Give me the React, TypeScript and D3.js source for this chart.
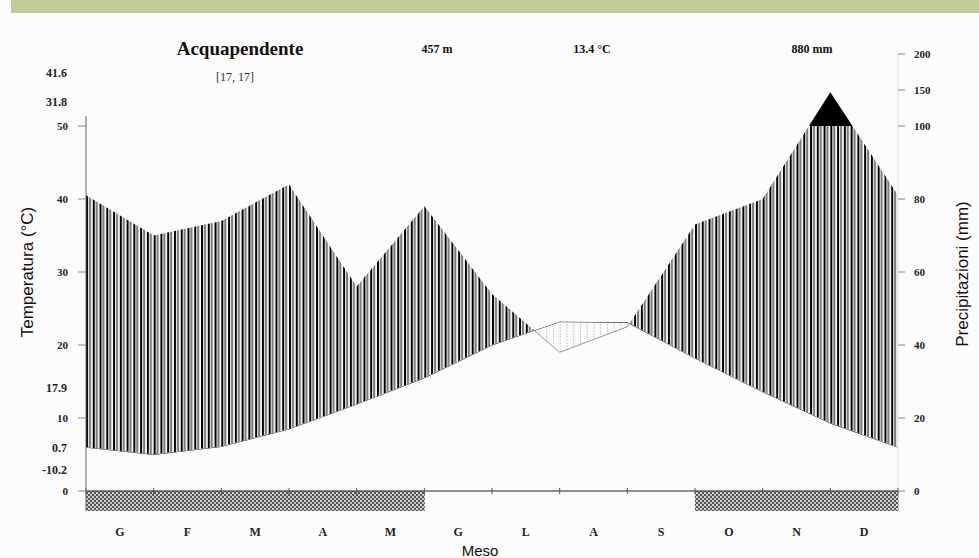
import { useMemo } from "react";
import * as d3 from "d3";

// Walter-Lieth climate diagram, Acquapendente
const months = ["G", "F", "M", "A", "M", "G", "L", "A", "S", "O", "N", "D"];
const tempMean = [5.0, 6.1, 8.5, 11.9, 15.5, 20.0, 23.2, 23.1, 18.2, 13.6, 9.3, 6.0];
const precip = [70, 74, 84, 56, 78, 54, 38, 45, 73, 80, 147, 81];
const frostMonths = [1, 1, 1, 1, 1, 0, 0, 0, 0, 1, 1, 1];

const station = "Acquapendente";
const period = "[17, 17]";
const altitude = "457 m";
const meanTemp = "13.4 °C";
const totalPrecip = "880 mm";

const tempTicks = [0, 10, 20, 30, 40, 50];
const precipTicks = [0, 20, 40, 60, 80, 100, 150, 200];
const extremeLabels = ["41.6", "31.8", "17.9", "0.7", "-10.2"];

const W = 979;
const H = 558;
const serif = "'Liberation Serif', 'Times New Roman', serif";
const sans = "'Liberation Sans', Arial, sans-serif";

export default function App() {
  const m = { left: 86, right: 898, top: 126, zero: 491 };

  const x = d3.scaleLinear().domain([0, 12]).range([m.left, m.right]);
  const yT = d3.scaleLinear().domain([0, 50]).range([m.zero, m.top]);
  const yP = d3.scaleLinear().domain([0, 100, 200]).range([m.zero, m.top, 54]);
  const mw = x(1) - x(0);

  // month values sit on the month's right edge; December repeats at the left edge
  const pts = useMemo(
    () =>
      d3.range(13).map((k) => {
        const i = k === 0 ? 11 : k - 1;
        return { x: x(k), t: yT(tempMean[i]), p: yP(precip[i]) };
      }),
    []
  );

  const between = d3.area<any>().x((d) => d.x).y0((d) => d.t).y1((d) => d.p)(pts);
  const aboveT = d3.area<any>().x((d) => d.x).y0(0).y1((d) => d.t)(pts);
  const belowT = d3.area<any>().x((d) => d.x).y0((d) => d.t).y1(m.zero)(pts);
  const over100 = d3.area<any>().x((d) => d.x).y0(yP(100)).y1((d) => d.p)(pts);
  const tLine = d3.line<any>().x((d) => d.x).y((d) => d.t)(pts);
  const pLine = d3.line<any>().x((d) => d.x).y((d) => d.p)(pts);

  const extremeY = [77, 106, 392, 452, 474];

  return (
    <svg
      width={W}
      height={H}
      style={{ position: "absolute", left: 0, top: 0, background: "#fcfcfc" }}
    >
      <defs>
        <pattern id="wet" patternUnits="userSpaceOnUse" x={m.left} width={mw / 10} height={10}>
          <rect x={0} y={0} width={2} height={10} fill="#000" />
          <rect x={3} y={0} width={2} height={10} fill="#777" />
        </pattern>
        <pattern id="dry" patternUnits="userSpaceOnUse" x={m.left} width={mw / 10} height={3}>
          <rect x={0} y={0} width={0.8} height={2} fill="#bdbdbd" />
        </pattern>
        <pattern id="frost" patternUnits="userSpaceOnUse" width={4} height={4}>
          <rect width={4} height={4} fill="#555" />
          <circle cx={1} cy={1} r={1} fill="#fff" />
          <circle cx={3} cy={3} r={1} fill="#eee" />
        </pattern>
        <clipPath id="clipAbove">
          <path d={aboveT ?? ""} />
        </clipPath>
        <clipPath id="clipBelow">
          <path d={belowT ?? ""} />
        </clipPath>
        <clipPath id="clipUnder100">
          <rect x={0} y={yP(100)} width={W} height={H} />
        </clipPath>
        <clipPath id="clipOver100">
          <rect x={0} y={0} width={W} height={yP(100)} />
        </clipPath>
      </defs>

      {/* banner */}
      <rect x={11} y={0} width={W - 11} height={13} fill="#c1cd97" />

      {/* wet period */}
      <g clipPath="url(#clipUnder100)">
        <path d={between ?? ""} fill="url(#wet)" clipPath="url(#clipAbove)" />
      </g>
      {/* dry period */}
      <path d={between ?? ""} fill="url(#dry)" clipPath="url(#clipBelow)" />
      {/* > 100 mm */}
      <path d={over100 ?? ""} fill="#000" clipPath="url(#clipOver100)" />

      <g clipPath="url(#clipBelow)">
        <path d={tLine ?? ""} fill="none" stroke="#222" strokeWidth={1} />
        <path d={pLine ?? ""} fill="none" stroke="#999" strokeWidth={1} />
      </g>

      {/* frost months */}
      {frostMonths.map((f, i) =>
        f ? (
          <rect key={i} x={x(i)} y={m.zero} width={mw + 0.5} height={20} fill="url(#frost)" />
        ) : null
      )}

      {/* axes */}
      <line x1={m.left} x2={m.right} y1={m.zero} y2={m.zero} stroke="#222" strokeWidth={1} />
      <line x1={m.left} x2={m.left} y1={116} y2={511} stroke="#666" strokeWidth={1} />
      <line x1={m.right} x2={m.right} y1={yP(200)} y2={m.zero} stroke="#ddd" strokeWidth={1} />
      {d3.range(13).map((k) => (
        <line key={k} x1={x(k)} x2={x(k)} y1={m.zero - 3} y2={m.zero + 3} stroke="#555" />
      ))}

      {tempTicks.map((t) => (
        <g key={t}>
          <line x1={78} x2={m.left} y1={yT(t)} y2={yT(t)} stroke="#888" />
          <text
            x={68}
            y={yT(t) + 4}
            textAnchor="end"
            fontFamily={serif}
            fontWeight="bold"
            fontSize={11}
            fill="#222"
          >
            {t}
          </text>
        </g>
      ))}
      {precipTicks.map((p) => (
        <g key={p}>
          <line x1={m.right} x2={m.right + 7} y1={yP(p)} y2={yP(p)} stroke="#888" />
          <text
            x={914}
            y={yP(p) + 4}
            fontFamily={serif}
            fontWeight="bold"
            fontSize={11}
            fill="#222"
          >
            {p}
          </text>
        </g>
      ))}

      {extremeLabels.map((s, i) => (
        <text
          key={s}
          x={67}
          y={extremeY[i]}
          textAnchor="end"
          fontFamily={serif}
          fontWeight="bold"
          fontSize={12}
          fill="#222"
        >
          {s}
        </text>
      ))}

      {months.map((mo, i) => (
        <text
          key={i}
          x={x(i + 0.5)}
          y={536}
          textAnchor="middle"
          fontFamily={serif}
          fontWeight="bold"
          fontSize={12}
          fill="#222"
        >
          {mo}
        </text>
      ))}

      {/* header */}
      <text x={240} y={55} textAnchor="middle" fontFamily={serif} fontWeight="bold" fontSize={19} fill="#111">
        {station}
      </text>
      <text x={235} y={81} textAnchor="middle" fontFamily={serif} fontSize={12} fill="#333">
        {period}
      </text>
      <text x={437} y={53} textAnchor="middle" fontFamily={serif} fontWeight="bold" fontSize={12} fill="#111">
        {altitude}
      </text>
      <text x={592} y={53} textAnchor="middle" fontFamily={serif} fontWeight="bold" fontSize={12} fill="#111">
        {meanTemp}
      </text>
      <text x={812} y={53} textAnchor="middle" fontFamily={serif} fontWeight="bold" fontSize={12} fill="#111">
        {totalPrecip}
      </text>

      {/* axis titles */}
      <text
        transform="translate(33,272) rotate(-90)"
        textAnchor="middle"
        fontFamily={sans}
        fontSize={17}
        fill="#111"
      >
        Temperatura (°C)
      </text>
      <text
        transform="translate(968,274) rotate(-90)"
        textAnchor="middle"
        fontFamily={sans}
        fontSize={17}
        fill="#111"
      >
        Precipitazioni (mm)
      </text>
      <text x={480} y={556} textAnchor="middle" fontFamily={sans} fontSize={15} fill="#111">
        Meso
      </text>
    </svg>
  );
}
